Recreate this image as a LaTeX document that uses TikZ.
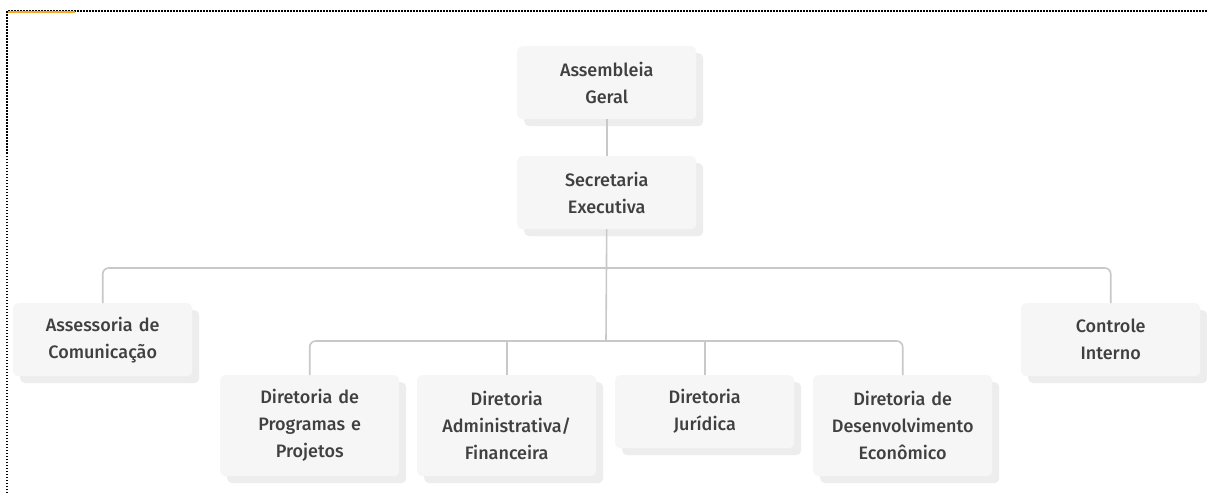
\documentclass[tikz,border=0pt]{standalone}
\usepackage{fontspec}
\setmainfont{Fira Sans Medium}
\usetikzlibrary{shadows}
\definecolor{boxfill}{HTML}{F6F6F6}
\definecolor{shadowc}{HTML}{EDEDED}
\definecolor{txt}{HTML}{404040}
\definecolor{connc}{HTML}{C8C8C8}
\definecolor{orangec}{HTML}{F5A623}
\tikzset{
  orgbox/.style={draw=none, fill=boxfill, rounded corners=5pt, anchor=north west,
    minimum width=179pt, text width=175pt, align=center, inner sep=0pt,
    font=\fontsize{18}{27}\selectfont, text=txt,
    drop shadow={shadow xshift=7pt, shadow yshift=-7pt, fill=shadowc, opacity=1}},
  twoline/.style={orgbox, minimum height=73pt},
  threeline/.style={orgbox, minimum height=101pt},
  conn/.style={draw=connc, line width=1.6pt},
  bus/.style={conn, rounded corners=6pt}
}
\begin{document}
\begin{tikzpicture}[x=1pt,y=-1pt]
\useasboundingbox (0,0) rectangle (1207,495);
\fill[white] (0,0) rectangle (1207,495);
% frame
\draw[line width=1.5pt, dash pattern=on 1.5pt off 1.5pt] (7,496) -- (7,11) -- (1208,11);
\draw[orangec, line width=1.8pt] (8,12) -- (75,12);
% nodes
\node[twoline] (ag) at (517,46) {Assembleia\\Geral};
\node[twoline] (se) at (517,156) {Secretaria\\Executiva};
\node[twoline] (ac) at (13,303) {Assessoria de\\Comunicação};
\node[twoline] (ci) at (1021,303) {Controle\\Interno};
\node[threeline] (dp) at (220,375) {Diretoria de\\Programas e\\Projetos};
\node[threeline] (da) at (417,375) {Diretoria\\Administrativa/\\Financeira};
\node[twoline] (dj) at (615,375) {Diretoria\\Jurídica};
\node[threeline] (dd) at (813,375) {Diretoria de\\Desenvolvimento\\Econômico};
\coordinate (bus1) at (606,268);
\coordinate (bus2) at (606,341);
% connectors
\draw[conn] (ag.south) -- (se.north);
\draw[bus] (ac.north) |- (bus1) -| (ci.north);
\draw[conn] (se.south) -- (bus2);
\draw[bus] (dp.north) |- (bus2) -| (dd.north);
\draw[conn] (da.north) -- (da.north |- bus2);
\draw[conn] (dj.north) -- (dj.north |- bus2);
\end{tikzpicture}
\end{document}
